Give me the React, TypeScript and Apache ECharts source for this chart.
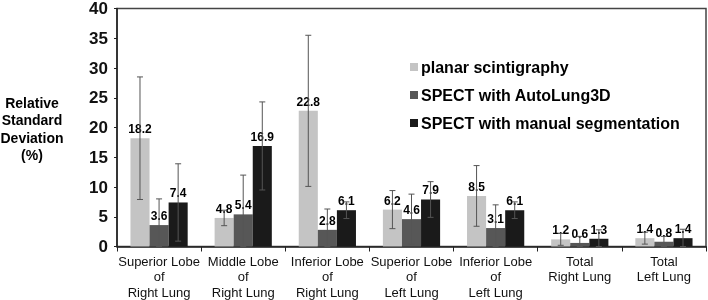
import React, { useEffect, useRef } from "react";
import * as echarts from "echarts";

const categories = [
  "Superior Lobe\nof\nRight Lung",
  "Middle Lobe\nof\nRight Lung",
  "Inferior Lobe\nof\nRight Lung",
  "Superior Lobe\nof\nLeft Lung",
  "Inferior Lobe\nof\nLeft Lung",
  "Total\nRight Lung",
  "Total\nLeft Lung",
];
const seriesNames = [
  "planar scintigraphy",
  "SPECT with AutoLung3D",
  "SPECT with manual segmentation",
];
const planar = [18.2, 4.8, 22.8, 6.2, 8.5, 1.2, 1.4];
const autoLung = [3.6, 5.4, 2.8, 4.6, 3.1, 0.6, 0.8];
const manual = [7.4, 16.9, 6.1, 7.9, 6.1, 1.3, 1.4];
const planarErr = [10.3, 1.3, 12.7, 3.2, 5.1, 1.0, 1.0];
const autoLungErr = [4.4, 6.6, 3.5, 4.2, 3.9, 1.1, 0.9];
const manualErr = [6.5, 7.4, 1.4, 3.0, 1.4, 1.5, 1.5];
const yTicks = [0, 5, 10, 15, 20, 25, 30, 35, 40];

const colors = ["#c4c4c4", "#575757", "#1a1a1a"];
const FONT = "'Liberation Sans', Arial, sans-serif";
const LABEL_FONT = "'Liberation Sans Narrow', 'Liberation Sans', Arial, sans-serif";
const CAT_GAP = 0.32;

function errSeries(idx: number, values: number[], errs: number[]) {
  const data = values.map((v, i) => [i, Math.max(0, v - errs[i]), v + errs[i]]);
  return {
    type: "custom",
    name: seriesNames[idx] + " err",
    z: 5,
    silent: true,
    data,
    encode: { x: 0, y: [1, 2] },
    renderItem: (params: any, api: any) => {
      const cat = api.value(0);
      const lo = api.coord([cat, api.value(1)]);
      const hi = api.coord([cat, api.value(2)]);
      const band = api.size([1, 0])[0];
      const bw = (band * (1 - CAT_GAP)) / 3;
      const x = lo[0] + (idx - 1) * bw;
      const cap = 3;
      const style = { stroke: "#555555", lineWidth: 1 };
      return {
        type: "group",
        children: [
          { type: "line", shape: { x1: x, y1: lo[1], x2: x, y2: hi[1] }, style },
          { type: "line", shape: { x1: x - cap, y1: hi[1], x2: x + cap, y2: hi[1] }, style },
          { type: "line", shape: { x1: x - cap, y1: lo[1], x2: x + cap, y2: lo[1] }, style },
        ],
      };
    },
  };
}

export default function App() {
  const ref = useRef<HTMLDivElement>(null);
  useEffect(() => {
    if (!ref.current) return;
    const chart = echarts.init(ref.current, null, { renderer: "svg" });
    const barSeries = [planar, autoLung, manual].map((vals, i) => ({
      type: "bar",
      name: seriesNames[i],
      data: vals,
      barGap: "0%",
      barCategoryGap: CAT_GAP * 100 + "%",
      itemStyle: { color: colors[i] },
      label: {
        show: true,
        position: "top",
        distance: 3,
        color: "#000",
        fontWeight: "bold",
        fontSize: 12,
        fontFamily: LABEL_FONT,
        formatter: (p: any) => p.value.toFixed(1),
      },
      z: 2,
    }));
    chart.setOption({
      animation: false,
      textStyle: { fontFamily: FONT },
      grid: {
        left: 117,
        right: 2,
        top: 7,
        bottom: 52,
        show: true,
        borderColor: "#444",
        borderWidth: 1.5,
      },
      legend: {
        orient: "vertical",
        left: 410,
        top: 59,
        padding: 0,
        itemWidth: 8,
        itemHeight: 8,
        itemGap: 12,
        icon: "rect",
        data: seriesNames,
        textStyle: {
          fontSize: 16,
          fontWeight: "bold",
          color: "#000",
          fontFamily: FONT,
          padding: [0, 0, 0, -2],
        },
      },
      xAxis: {
        type: "category",
        data: categories,
        axisLine: { lineStyle: { color: "#222", width: 1.5 } },
        axisTick: { show: true, length: 5, lineStyle: { color: "#222" } },
        axisLabel: {
          interval: 0,
          color: "#111",
          fontSize: 13,
          lineHeight: 15.5,
          margin: 7,
          fontFamily: FONT,
        },
      },
      yAxis: {
        type: "value",
        min: yTicks[0],
        max: yTicks[yTicks.length - 1],
        interval: 5,
        splitLine: { show: false },
        axisLine: { show: true, lineStyle: { color: "#222", width: 1.5 } },
        axisTick: { show: true, length: 3, lineStyle: { color: "#222" } },
        axisLabel: {
          color: "#111",
          fontSize: 17,
          fontWeight: "bold",
          margin: 9,
          fontFamily: FONT,
        },
      },
      graphic: [
        {
          type: "text",
          x: 32,
          y: 94,
          style: {
            text: "Relative\nStandard\nDeviation\n(%)",
            fill: "#000",
            font: "bold 14px " + FONT,
            lineHeight: 17.5,
            align: "center",
            verticalAlign: "top",
          },
        },
      ],
      series: [
        ...barSeries,
        errSeries(0, planar, planarErr),
        errSeries(1, autoLung, autoLungErr),
        errSeries(2, manual, manualErr),
      ],
    });
    return () => chart.dispose();
  }, []);
  return (
    <div
      ref={ref}
      style={{ position: "fixed", left: 0, top: 0, width: 708, height: 300 }}
    />
  );
}
